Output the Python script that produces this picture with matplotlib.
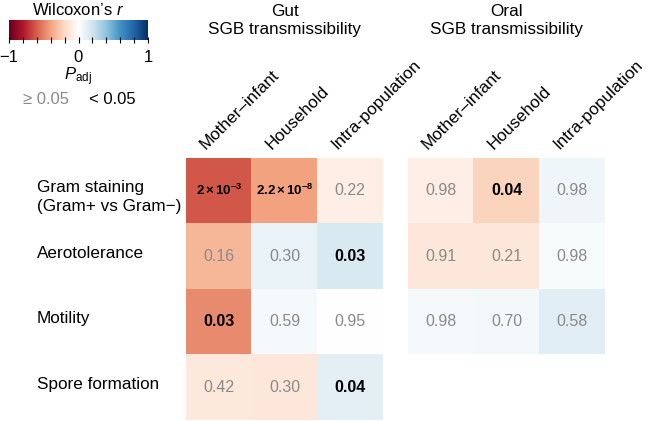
import numpy as np
import matplotlib
matplotlib.use('Agg')
import matplotlib.pyplot as plt
from matplotlib.colors import LinearSegmentedColormap
from matplotlib.ticker import MultipleLocator

plt.rcParams['font.family'] = ['Liberation Sans', 'DejaVu Sans']
plt.rcParams['mathtext.fontset'] = 'custom'
plt.rcParams['mathtext.rm'] = 'Liberation Sans'
plt.rcParams['mathtext.it'] = 'Liberation Sans:italic'
plt.rcParams['mathtext.bf'] = 'Liberation Sans:bold'

# data
traits = ['Gram staining\n(Gram+ vs Gram\u2212)', 'Aerotolerance', 'Motility', 'Spore formation']
settings = ['Mother\u2013infant', 'Household', 'Intra-population']

gut_r = [[-0.62, -0.40, -0.09],
         [-0.33, 0.10, 0.17],
         [-0.47, 0.04, 0.00],
         [-0.12, -0.13, 0.12]]
gut_p = [['2 \u00d7 10$^{-3}$', '2.2 \u00d7 10$^{-8}$', '0.22'],
         ['0.16', '0.30', '0.03'],
         ['0.03', '0.59', '0.95'],
         ['0.42', '0.30', '0.04']]
gut_sig = [[True, True, False],
           [False, False, True],
           [True, False, False],
           [False, False, True]]

oral_r = [[-0.09, -0.22, 0.07],
          [-0.13, -0.13, 0.03],
          [0.04, 0.05, 0.13]]
oral_p = [['0.98', '0.04', '0.98'],
          ['0.91', '0.21', '0.98'],
          ['0.98', '0.70', '0.58']]
oral_sig = [[False, True, False],
            [False, False, False],
            [False, False, False]]

rdbu = plt.get_cmap('RdBu')
cols = [rdbu(v) for v in np.linspace(0, 1, 11)]
cols[5] = (1, 1, 1, 1)
cmap = LinearSegmentedColormap.from_list('rdwb', cols)

fig = plt.figure(figsize=(6.5, 4.21), dpi=100)
W, H = 650, 421
LAB = 12.3


def px_axes(x0, y0, x1, y1):
    return fig.add_axes([x0 / W, 1 - y1 / H, (x1 - x0) / W, (y1 - y0) / H])


def draw_block(ax, r, p, sig, title):
    n = len(r)
    arr = np.full((4, 3), np.nan)
    arr[:n] = np.array(r)
    ax.imshow(np.ma.masked_invalid(arr), cmap=cmap, vmin=-1, vmax=1,
              aspect='auto', interpolation='nearest')
    for i in range(n):
        for j in range(3):
            if sig[i][j]:
                txt = p[i][j]
                if '$' in txt:
                    txt = '$\\mathbf{' + txt.replace('$', '').replace(' \u00d7 ', '\\times') + '}$'
                    ax.text(j, i, txt, ha='center', va='center', fontsize=9.5,
                            color='black')
                else:
                    ax.text(j, i, txt, ha='center', va='center', fontsize=11.5,
                            color='black', fontweight='bold')
            else:
                ax.text(j, i, p[i][j], ha='center', va='center', fontsize=11.5,
                        color='#8a8a8a')
    ax.set_xlim(-0.5, 2.5)
    ax.set_ylim(3.5, -0.5)
    ax.axis('off')
    for j, s in enumerate(settings):
        ax.text(j - 0.2, -0.62, s, rotation=45, rotation_mode='anchor',
                ha='left', va='baseline', fontsize=LAB)
    ax.text(1, -2.6, title, ha='center', va='center', fontsize=LAB,
            linespacing=1.3)


ax_gut = px_axes(186, 158, 383, 420)
draw_block(ax_gut, gut_r, gut_p, gut_sig, 'Gut\nSGB transmissibility')
ax_oral = px_axes(408, 158, 605, 420)
draw_block(ax_oral, oral_r, oral_p, oral_sig, 'Oral\nSGB transmissibility')

# row labels
row_y = [197, 253, 318, 384]
for t, y in zip(traits, row_y):
    fig.text(37 / W, 1 - y / H, t, ha='left', va='center',
             fontsize=LAB, linespacing=1.3)

# colour bar
cax = px_axes(9, 20, 148, 40)
grad = np.linspace(-1, 1, 256).reshape(1, -1)
cax.imshow(grad, cmap=cmap, aspect='auto', extent=[-1, 1, 0, 1])
cax.set_yticks([])
cax.set_xticks([-1, 0, 1])
cax.set_xticklabels(['\u22121', '0', '1'], fontsize=12)
cax.xaxis.set_minor_locator(MultipleLocator(0.2))
cax.tick_params(axis='x', which='both', direction='inout', length=4, width=0.8, pad=5)
for s in cax.spines.values():
    s.set_visible(False)

fig.text(78 / W, 1 - 10 / H, "Wilcoxon\u2019s $\\mathit{r}$", ha='center', va='center', fontsize=12)
fig.text(78 / W, 1 - 77 / H, '$\\mathit{P}_{\\mathrm{adj}}$', ha='center', va='center', fontsize=12)
fig.text(46 / W, 1 - 99 / H, '\u2265 0.05', ha='center', va='center', fontsize=12, color='#8a8a8a')
fig.text(112 / W, 1 - 99 / H, '< 0.05', ha='center', va='center', fontsize=12, color='black')

fig.savefig('out.png', dpi=100)
